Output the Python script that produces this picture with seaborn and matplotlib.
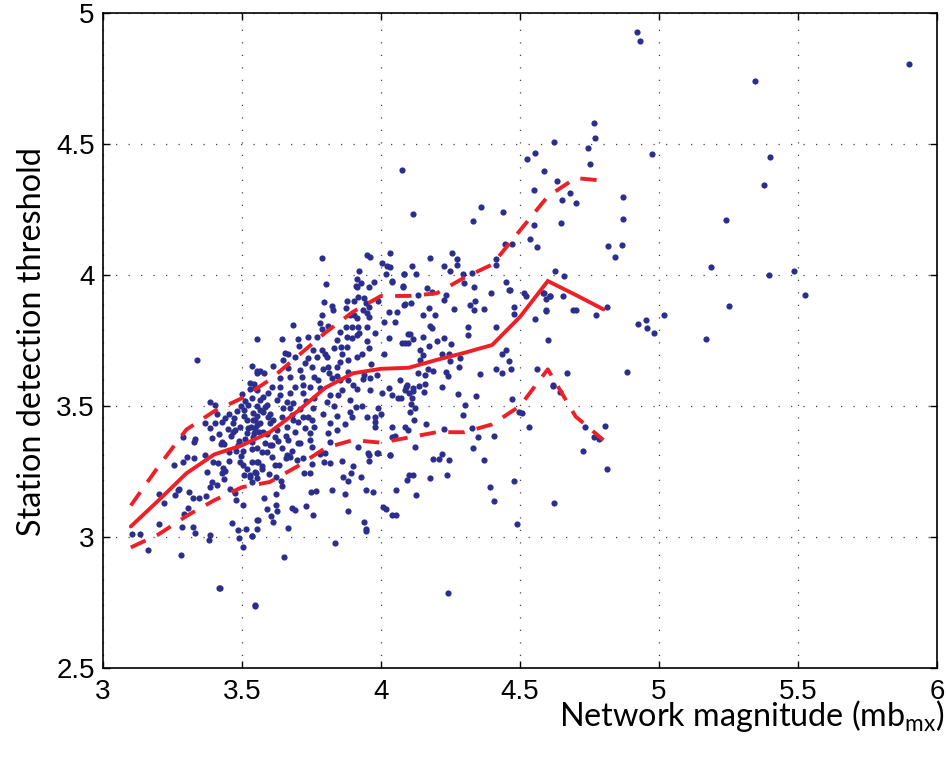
import numpy as np
import pandas as pd
import matplotlib
matplotlib.use("Agg")
import matplotlib.pyplot as plt
import seaborn as sns

# ---- data -----------------------------------------------------------------
bin_mag = [3.1, 3.2, 3.3, 3.4, 3.5, 3.6, 3.7, 3.8, 3.9, 4.0, 4.1, 4.2, 4.3, 4.4, 4.5, 4.6, 4.7, 4.8]
median_thr = [3.04, 3.14, 3.243, 3.315, 3.35, 3.40, 3.48, 3.57, 3.625, 3.642, 3.646, 3.676, 3.703, 3.733, 3.84, 3.977, 3.924, 3.869]
upper_thr = [3.12, 3.27, 3.41, 3.48, 3.53, 3.60, 3.69, 3.78, 3.86, 3.92, 3.92, 3.93, 3.99, 4.04, 4.17, 4.30, 4.37, 4.36]
lower_thr = [2.96, 3.01, 3.08, 3.14, 3.19, 3.21, 3.27, 3.34, 3.37, 3.36, 3.38, 3.40, 3.40, 3.43, 3.50, 3.64, 3.46, 3.37]

pts = [
 # right-hand outliers
 (5.345,4.740),(5.900,4.805),(5.399,4.449),(5.377,4.345),(5.240,4.209),(5.186,4.029),
 (5.397,3.999),(5.486,4.014),(5.525,3.925),(5.252,3.883),(5.169,3.756),(4.921,4.927),(4.933,4.893),
 # 4.55 - 5.05
 (4.766,4.579),(4.770,4.523),(4.622,4.508),(4.746,4.483),(4.976,4.462),(4.752,4.425),(4.587,4.397),
 (4.634,4.358),(4.680,4.313),(4.652,4.285),(4.703,4.276),(4.869,4.299),(4.869,4.214),(4.646,4.198),
 (4.818,4.111),(4.866,4.113),(4.842,4.068),(4.627,4.015),(4.659,3.996),(4.584,3.933),(4.592,3.907),
 (4.608,3.919),(4.654,3.919),(4.594,3.864),(4.692,3.868),(4.701,3.868),(4.772,3.846),(4.814,3.878),
 (5.019,3.846),(4.923,3.813),(4.954,3.828),(4.956,3.798),(4.983,3.777),(4.602,3.753),(4.669,3.625),
 (4.885,3.630),(4.618,3.577),(4.644,3.553),(4.735,3.421),(4.806,3.424),(4.766,3.383),(4.784,3.374),
 (4.725,3.327),(4.814,3.260),
 # 4.05 - 4.6 upper
 (4.554,4.464),(4.524,4.444),(4.551,4.324),(4.077,4.401),(4.116,4.233),(4.360,4.261),(4.330,4.207),
 (4.438,4.239),(4.551,4.191),(4.536,4.137),(4.560,4.108),(4.446,4.118),(4.472,4.118),(4.175,4.066),
 (4.257,4.085),(4.274,4.060),(4.110,4.033),(4.226,4.034),(4.273,4.038),(4.247,4.015),(4.414,4.061),
 (4.414,4.038),(4.083,4.004),(4.125,4.003),(4.296,4.004),(4.327,4.006),(4.078,3.957),(4.167,3.952),
 (4.183,3.936),(4.132,3.922),(4.226,3.903),(4.233,3.922),(4.299,3.971),(4.334,3.953),(4.450,3.973),
 (4.459,3.943),(4.464,3.942),(4.396,3.933),(4.516,3.930),(4.522,3.920),(4.585,3.930),(4.607,3.919),
 (4.083,3.887),(4.108,3.892),(4.319,3.884),(4.337,3.900),(4.335,3.866),(4.369,3.871),(4.262,3.869),
 (4.173,3.873),(4.479,3.877),(4.479,3.850),(4.152,3.847),(4.193,3.847),(4.595,3.865),(4.554,3.831),
 (4.177,3.805),(4.182,3.798),(4.312,3.802),(4.314,3.770),(4.414,3.800),(4.106,3.775),(4.098,3.775),
 (4.150,3.763),(4.116,3.755),(4.227,3.760),(4.200,3.747),(4.252,3.737),(4.174,3.729),(4.086,3.739),
 (4.098,3.742),(4.074,3.742),(4.141,3.714),(4.150,3.695),(4.140,3.676),(4.218,3.700),(4.246,3.697),
 (4.284,3.682),(4.248,3.671),(4.434,3.697),(4.450,3.714),(4.462,3.673),(4.168,3.641),(4.186,3.635),
 (4.133,3.625),(4.159,3.618),(4.233,3.631),(4.242,3.616),(4.281,3.650),(4.356,3.621),(4.414,3.642),
 (4.434,3.625),(4.468,3.641),(4.560,3.641),(4.068,3.599),(4.095,3.580),(4.116,3.567),(4.138,3.578),
 (4.158,3.584),(4.219,3.574),(4.617,3.580),
 # 4.05 - 4.6 lower
 (4.090,3.571),(4.102,3.548),(4.116,3.556),(4.155,3.552),(4.278,3.545),(4.341,3.538),(4.072,3.532),
 (4.113,3.531),(4.109,3.508),(4.121,3.492),(4.103,3.478),(4.302,3.503),(4.296,3.467),(4.119,3.448),
 (4.162,3.432),(4.098,3.408),(4.226,3.411),(4.326,3.415),(4.471,3.528),(4.498,3.476),(4.508,3.472),
 (4.533,3.421),(4.348,3.381),(4.407,3.386),(4.121,3.345),(4.330,3.341),(4.188,3.296),(4.210,3.299),
 (4.218,3.317),(4.246,3.295),(4.369,3.293),(4.100,3.237),(4.115,3.238),(4.092,3.218),(4.176,3.227),
 (4.237,3.237),(4.478,3.214),(4.392,3.190),(4.127,3.162),(4.408,3.137),(4.622,3.131),(4.491,3.050),
 (4.242,2.787),
 # 3.5 - 4.05 lower
 (3.572,3.326),(3.589,3.326),(3.535,3.287),(3.555,3.287),(3.609,3.304),(3.657,3.300),(3.669,3.309),
 (3.699,3.294),(3.573,3.271),(3.573,3.258),(3.619,3.275),(3.633,3.275),(3.751,3.279),(3.782,3.317),
 (3.795,3.286),(3.818,3.281),(3.957,3.313),(3.957,3.291),(3.988,3.322),(4.034,3.314),(3.549,3.243),
 (3.529,3.237),(3.555,3.227),(3.597,3.240),(3.621,3.230),(3.640,3.214),(3.643,3.196),(3.535,3.209),
 (3.723,3.243),(3.745,3.243),(3.863,3.230),(3.880,3.213),(3.892,3.244),(3.928,3.229),(3.749,3.173),
 (3.766,3.177),(3.825,3.179),(3.947,3.178),(3.970,3.173),(3.871,3.165),(4.055,3.180),(3.579,3.148),
 (3.622,3.165),(3.622,3.123),(3.590,3.106),(3.625,3.100),(3.681,3.111),(3.691,3.102),(3.729,3.118),
 (3.754,3.085),(3.881,3.099),(4.006,3.113),(4.018,3.108),(4.038,3.085),(4.053,3.085),(3.605,3.079),
 (3.610,3.058),(3.558,3.064),(3.555,3.029),(3.667,3.033),(3.939,3.057),(3.945,3.032),(3.946,3.023),
 (3.535,3.004),(3.835,2.977),(3.651,2.925),(3.548,2.739),(3.417,2.805),
 # 3.1 - 3.55
 (3.543,3.584),(3.528,3.565),(3.499,3.545),(3.553,3.561),(3.385,3.516),(3.403,3.504),(3.523,3.504),
 (3.481,3.482),(3.507,3.485),(3.538,3.472),(3.507,3.462),(3.553,3.462),(3.439,3.453),(3.368,3.436),
 (3.403,3.434),(3.427,3.440),(3.469,3.436),(3.517,3.447),(3.531,3.421),(3.553,3.427),(3.385,3.417),
 (3.466,3.402),(3.475,3.408),(3.493,3.421),(3.517,3.396),(3.543,3.396),(3.562,3.402),(3.289,3.380),
 (3.332,3.373),(3.329,3.364),(3.391,3.377),(3.427,3.364),(3.490,3.368),(3.511,3.374),(3.535,3.364),
 (3.423,3.354),(3.435,3.354),(3.487,3.351),(3.505,3.328),(3.535,3.335),(3.553,3.338),(3.367,3.313),
 (3.395,3.287),(3.415,3.281),(3.452,3.290),(3.493,3.287),(3.559,3.287),(3.289,3.285),(3.303,3.307),
 (3.327,3.303),(3.255,3.276),(3.433,3.265),(3.439,3.252),(3.505,3.275),(3.517,3.258),(3.547,3.249),
 (3.373,3.249),(3.427,3.243),(3.507,3.237),(3.529,3.230),(3.391,3.211),(3.409,3.198),(3.436,3.221),
 (3.385,3.192),(3.457,3.182),(3.475,3.169),(3.478,3.141),(3.505,3.122),(3.463,3.052),(3.487,3.027),
 (3.505,2.963),(3.514,3.031),(3.535,3.005),(3.490,2.995),(3.553,3.065),(3.385,3.008),(3.382,2.989),
 (3.331,3.014),(3.323,3.039),(3.285,3.040),(3.305,3.109),(3.291,3.088),(3.273,3.182),(3.260,3.160),
 (3.309,3.171),(3.323,3.148),(3.346,3.148),(3.370,3.157),(3.421,2.804),(3.547,2.737),(3.280,2.930),
 (3.200,3.050),(3.200,3.165),(3.220,3.130),(3.105,3.011),(3.133,3.010),(3.163,2.950),(3.270,3.180),
 (3.337,3.674),(3.555,3.755),(3.537,3.654),(3.553,3.635),(3.555,3.625),
 # extra points in the dense core
 (3.455,3.470),(3.470,3.455),(3.495,3.500),(3.512,3.520),(3.448,3.412),(3.460,3.385),(3.478,3.330),
 (3.498,3.310),(3.452,3.325),(3.418,3.395),(3.410,3.470),(3.520,3.415),(3.545,3.445),(3.566,3.485),
 (3.575,3.535),(3.590,3.505),(3.600,3.470),(3.612,3.445),(3.625,3.410),(3.590,3.395),(3.600,3.350),
 (3.628,3.365),(3.645,3.340),(3.660,3.385),(3.690,3.400),(3.700,3.440),(3.710,3.490),(3.730,3.520),
 (3.760,3.530),(3.775,3.600),(3.790,3.640),(3.800,3.700),(3.830,3.720),(3.860,3.700),(3.895,3.760),
 (3.930,3.700),(3.965,3.660),(3.985,3.620),(4.010,3.700),(4.030,3.760),(4.010,3.820),(3.990,3.900),
 (3.980,3.780),(3.940,3.620),(3.900,3.580),(3.860,3.560),(3.830,3.500),(3.790,3.470),(3.760,3.420),
 (3.700,3.360),(3.680,3.330),(3.720,3.300),(3.800,3.320),(3.860,3.290),(3.900,3.270),(3.840,3.410),
 (3.870,3.430),(3.930,3.500),(3.960,3.560),(4.000,3.470),
 # 3.5 - 4.1 dense centre
 (3.801,3.966),(3.912,3.955),(3.928,3.971),(3.957,3.953),(3.975,3.974),(4.041,3.974),(4.078,3.955),
 (3.919,3.917),(3.940,3.911),(3.946,3.892),(3.795,3.898),(3.876,3.902),(3.903,3.902),(3.823,3.883),
 (3.957,3.879),(4.086,3.888),(3.828,3.866),(3.874,3.873),(3.934,3.866),(3.951,3.854),(4.030,3.860),
 (4.056,3.860),(3.787,3.847),(3.888,3.847),(3.903,3.847),(3.912,3.835),(3.958,3.841),(4.050,3.822),
 (3.781,3.818),(3.682,3.809),(3.811,3.805),(3.873,3.803),(3.895,3.803),(3.919,3.803),(3.948,3.803),
 (3.787,3.793),(3.853,3.784),(3.912,3.771),(3.922,3.780),(3.876,3.765),(3.645,3.755),(3.703,3.755),
 (3.739,3.762),(3.769,3.762),(3.843,3.752),(3.951,3.749),(3.706,3.729),(3.855,3.726),(3.879,3.726),
 (3.958,3.720),(3.757,3.714),(3.787,3.714),(3.655,3.701),(3.664,3.698),(3.691,3.688),(3.739,3.682),
 (3.769,3.688),(3.804,3.686),(3.853,3.669),(3.880,3.676),(3.912,3.688),(3.646,3.676),(3.727,3.663),
 (3.751,3.648),(3.811,3.650),(3.841,3.648),(3.613,3.653),(3.565,3.635),(3.579,3.625),(3.667,3.644),
 (3.709,3.637),(3.813,3.627),(3.880,3.631),(3.637,3.606),(3.673,3.612),(3.717,3.612),(3.760,3.612),
 (3.823,3.606),(3.841,3.616),(3.882,3.599),(3.934,3.602),(3.960,3.606),(3.529,3.587),(3.547,3.568),
 (3.607,3.574),(3.637,3.574),(3.691,3.574),(3.721,3.580),(3.745,3.574),(3.781,3.568),(3.853,3.599),
 (3.912,3.564),(4.030,3.568),(4.086,3.561),(3.595,3.548),(3.637,3.542),(3.673,3.548),(3.721,3.548),
 (3.817,3.542),(3.847,3.542),(4.002,3.548),(4.038,3.542),(4.062,3.529),(3.535,3.529),(3.565,3.523),
 (3.625,3.523),(3.661,3.516),(3.685,3.510),(3.804,3.516),(3.888,3.523),(3.553,3.500),(3.583,3.497),
 (3.649,3.491),(3.673,3.491),(3.757,3.491),(3.910,3.497),(3.990,3.491),(3.577,3.478),(3.595,3.459),
 (3.643,3.459),(3.679,3.466),(3.721,3.459),(3.739,3.457),(3.888,3.478),(3.895,3.459),(3.841,3.462),
 (3.948,3.457),(3.978,3.457),(3.541,3.447),(3.565,3.434),(3.601,3.434),(3.685,3.447),(3.751,3.447),
 (3.817,3.434),(3.978,3.440),(4.038,3.421),(3.547,3.415),(3.577,3.402),(3.661,3.421),(3.727,3.415),
 (3.745,3.396),(3.978,3.421),(4.086,3.421),(3.541,3.383),(3.619,3.383),(3.667,3.370),(3.745,3.370),
 (3.811,3.396),(3.817,3.364),(4.038,3.383),(4.050,3.386),(3.583,3.358),(3.607,3.351),(3.709,3.358),
 (3.751,3.345),(3.919,3.345),(3.661,3.313),(3.673,3.307),(3.954,3.319),(3.985,3.322),(4.032,3.313),
 # around 4.0 line
 (3.789,4.064),(3.951,4.076),(3.960,4.070),(4.032,4.085),(4.002,4.047),(4.020,4.034),(4.032,4.029),
 (3.922,4.015),(3.912,3.984),(3.910,3.958),(4.017,4.004),(4.040,3.977),(4.083,4.003),
]
mag = [p[0] for p in pts]
thr = [p[1] for p in pts]

x_ticks = [3, 3.5, 4, 4.5, 5, 5.5, 6]
x_ticklabels = ["3", "3.5", "4", "4.5", "5", "5.5", "6"]
y_ticks = [2.5, 3, 3.5, 4, 4.5, 5]
y_ticklabels = ["2.5", "3", "3.5", "4", "4.5", "5"]

# ---- style ------------------------------------------------------------------
sns.set_theme(style="white")
plt.rcParams["font.family"] = ["Liberation Sans Narrow", "Liberation Sans", "DejaVu Sans"]
plt.rcParams["mathtext.default"] = "regular"

BLUE = "#2B2E8C"
RED = "#EE2027"

fig = plt.figure(figsize=(9.46, 7.60), dpi=100)
ax = fig.add_axes([103/946, 1-668/760, (937-103)/946, (668-13)/760])

scat_df = pd.DataFrame({"mag": mag, "thr": thr})
sns.scatterplot(data=scat_df, x="mag", y="thr", ax=ax, color=BLUE, s=20,
                linewidth=0, zorder=3)

line_df = pd.DataFrame({"mag": bin_mag, "med": median_thr, "up": upper_thr, "lo": lower_thr})
sns.lineplot(data=line_df, x="mag", y="med", ax=ax, color=RED, linewidth=2.8,
             zorder=4, solid_joinstyle="miter")
sns.lineplot(data=line_df, x="mag", y="up", ax=ax, color=RED, linewidth=2.8,
             zorder=4, linestyle=(0, (4.2, 3.2)), dash_capstyle="butt")
sns.lineplot(data=line_df, x="mag", y="lo", ax=ax, color=RED, linewidth=2.8,
             zorder=4, linestyle=(0, (4.2, 3.2)), dash_capstyle="butt")

ax.set_xlim(3, 6)
ax.set_ylim(2.5, 5)
ax.set_xticks(x_ticks)
ax.set_xticklabels(x_ticklabels)
ax.set_yticks(y_ticks)
ax.set_yticklabels(y_ticklabels)
ax.set_xlabel("")
ax.set_ylabel("")

ax.grid(True, color="#444444", linestyle=(0, (1, 9)), linewidth=0.9)
ax.set_axisbelow(True)
for sp in ax.spines.values():
    sp.set_visible(True)
    sp.set_color("black")
    sp.set_linewidth(1.2)
ax.tick_params(direction="in", length=5, width=1.0, color="black",
               top=True, right=True, bottom=True, left=True,
               labelsize=20, labelcolor="black", pad=6)
ax.tick_params(axis="x", pad=8)

fig.text(0.999, 1-726/760, "Network magnitude (mb$_{\\mathregular{mx}}$)",
         ha="right", va="baseline", fontsize=23.3, family=["Lato", "DejaVu Sans"],
         color="black")
fig.text(0.034, 1-342/760, "Station detection threshold", rotation=90,
         ha="center", va="center", fontsize=23.3, family=["Lato", "DejaVu Sans"],
         color="black")

fig.savefig("out.png", dpi=100)
